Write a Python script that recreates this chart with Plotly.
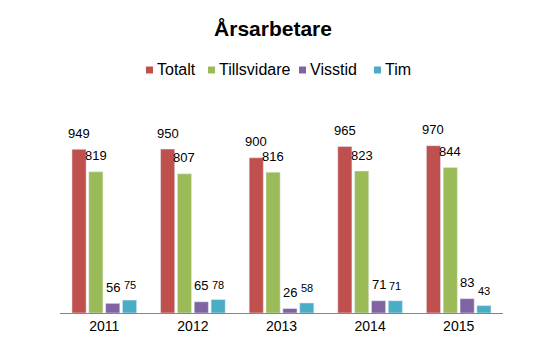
import plotly.graph_objects as go

years = ["2011", "2012", "2013", "2014", "2015"]
totalt = [949, 950, 900, 965, 970]
tillsvidare = [819, 807, 816, 823, 844]
visstid = [56, 65, 26, 71, 83]
tim = [75, 78, 58, 71, 43]

names = ["Totalt", "Tillsvidare", "Visstid", "Tim"]
values = [totalt, tillsvidare, visstid, tim]
colors = ["#C0504D", "#9BBB59", "#8064A2", "#4BACC6"]
label_sizes = [13, 13, 13, 11]

FONT = "Liberation Sans, Arial, sans-serif"
W, H = 548, 353
L, R, T, B = 60, 45, 106, 40
PW, PH = W - L - R, H - T - B

fig = go.Figure()
for name, vals, color in zip(names, values, colors):
    fig.add_trace(go.Bar(x=years, y=vals, name=name, marker_color=color,
                         showlegend=False))

# data labels above bars (grouped offsets in pixels)
cat_w = PW / len(years)
bargap, groupgap = 0.24, 0.16
slot = cat_w * (1 - bargap) / len(names)
anns = []
for i, (vals, fs) in enumerate(zip(values, label_sizes)):
    off = (i - (len(names) - 1) / 2) * slot
    for j, v in enumerate(vals):
        anns.append(dict(x=j, y=v, xref="x", yref="y", text=str(v),
                         showarrow=False, xshift=off, yshift=16 if fs > 11 else 15,
                         yanchor="middle", xanchor="center",
                         font=dict(size=fs, color="black", family=FONT)))

# legend (manual, compact like the reference)
legend_items = [(146, 155), (208, 217), (299, 308), (374, 383)]
leg_y = 70
shapes = []
for (sx, tx), name, color in zip(legend_items, names, colors):
    shapes.append(dict(type="rect", xref="paper", yref="paper",
                       x0=(sx - L) / PW, x1=(sx + 7 - L) / PW,
                       y0=(H - B - (leg_y + 3.5)) / PH, y1=(H - B - (leg_y - 3.5)) / PH,
                       fillcolor=color, line=dict(width=0)))
    anns.append(dict(x=(tx - L) / PW, y=(H - B - leg_y) / PH, xref="paper", yref="paper",
                     text=name, showarrow=False, xanchor="left", yanchor="middle",
                     font=dict(size=16, color="black", family=FONT)))

fig.update_layout(
    width=W, height=H,
    margin=dict(l=L, r=R, t=T, b=B),
    paper_bgcolor="white", plot_bgcolor="white",
    font=dict(family=FONT, color="black", size=13),
    barmode="group", bargap=bargap, bargroupgap=groupgap,
    title=dict(text="<b>Årsarbetare</b>", x=273 / W, xanchor="center",
               y=1 - 29 / H, yanchor="middle", yref="container",
               font=dict(size=21, color="black", family=FONT)),
    annotations=anns, shapes=shapes,
    showlegend=False,
)
fig.update_xaxes(type="category", range=[-0.5, len(years) - 0.5],
                 showline=True, linecolor="#868686", linewidth=1,
                 ticks="", tickfont=dict(size=14), showgrid=False)
fig.update_yaxes(range=[0, 1200], visible=False, showgrid=False)

fig.write_html("out.html")
